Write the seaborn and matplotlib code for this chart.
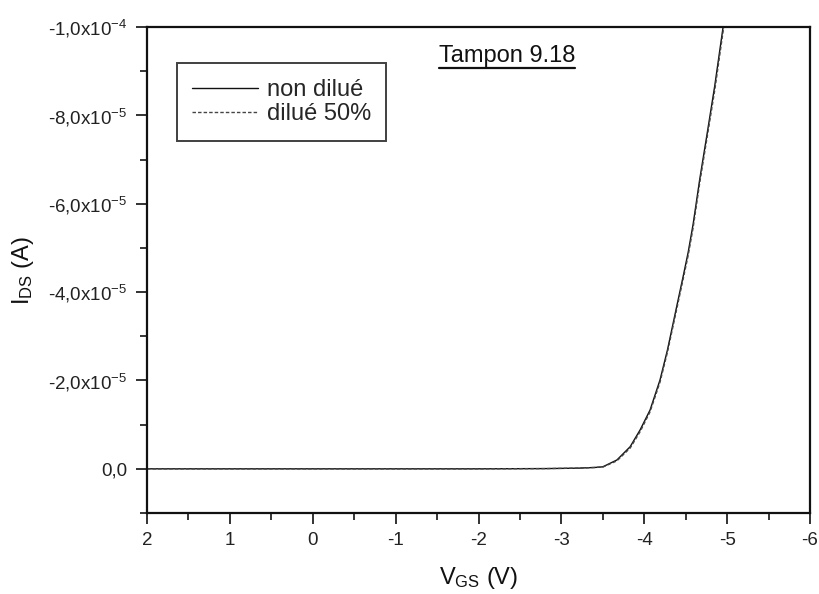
import matplotlib
matplotlib.use("Agg")
import matplotlib.pyplot as plt
from matplotlib.ticker import MultipleLocator, FixedLocator
from matplotlib.lines import Line2D
import seaborn as sns
import pandas as pd

###--- Values
vgs = [2.0, 1.0, 0.0, -1.0, -2.0, -2.8, -3.2, -3.4, -3.50, -3.67, -3.83, -3.95, -4.07,
       -4.19, -4.28, -4.39, -4.47, -4.53, -4.59, -4.67, -4.76, -4.85, -4.95, -5.0]
ids_non_dilue = [0.0, 0.0, 0.0, 0.0, 0.0, -0.05e-6, -0.15e-6, -0.3e-6, -0.45e-6, -2.0e-6,
                 -5.0e-6, -8.8e-6, -13.3e-6, -20.1e-6, -26.9e-6, -36.6e-6, -43.6e-6,
                 -49.0e-6, -55.4e-6, -65.6e-6, -76.0e-6, -86.6e-6, -99.8e-6, -106.0e-6]
ids_dilue_50 = [0.0, 0.0, 0.0, 0.0, 0.0, -0.05e-6, -0.15e-6, -0.3e-6, -0.4e-6, -1.8e-6,
                -4.7e-6, -8.4e-6, -12.9e-6, -19.6e-6, -26.4e-6, -36.0e-6, -43.0e-6,
                -48.3e-6, -54.6e-6, -64.8e-6, -75.2e-6, -85.6e-6, -98.8e-6, -105.0e-6]
series_names = ["non dilué", "dilué 50%"]

ytick_values = [0.0, -2e-5, -4e-5, -6e-5, -8e-5, -1e-4]
ytick_labels = ["0,0", r"-2,0x10$^{-5}$", r"-4,0x10$^{-5}$", r"-6,0x10$^{-5}$",
                r"-8,0x10$^{-5}$", r"-1,0x10$^{-4}$"]
xtick_values = [2, 1, 0, -1, -2, -3, -4, -5, -6]

###--- Long table for seaborn
df = pd.concat([
    pd.DataFrame({"VGS": vgs, "IDS": ids_non_dilue, "serie": series_names[0]}),
    pd.DataFrame({"VGS": vgs, "IDS": ids_dilue_50, "serie": series_names[1]}),
])

sns.set_style("ticks")
plt.rcParams['font.family'] = ['Liberation Sans', 'DejaVu Sans']
plt.rcParams['mathtext.fontset'] = 'custom'
plt.rcParams['mathtext.rm'] = 'Liberation Sans'
plt.rcParams['mathtext.it'] = 'Liberation Sans'

fig = plt.figure(figsize=(8.19, 5.94), dpi=100)
ax = fig.add_axes([147/819, 81/594, 663/819, 486/594])

sns.lineplot(data=df, x="VGS", y="IDS", hue="serie", style="serie",
             palette=["#111111", "#444444"], dashes=[(1, 0), (2.5, 1.5)],
             linewidth=1.0, sort=False, estimator=None, ax=ax, legend=False)

ax.set_xlim(2, -6)
ax.set_ylim(1e-5, -1e-4)

ax.xaxis.set_major_locator(FixedLocator(xtick_values))
ax.xaxis.set_minor_locator(MultipleLocator(0.5))
ax.set_xticklabels([str(v) for v in xtick_values])
ax.yaxis.set_major_locator(FixedLocator(ytick_values))
ax.yaxis.set_minor_locator(MultipleLocator(1e-5))
ax.set_yticklabels(ytick_labels)

ax.tick_params(axis='both', which='major', direction='out', length=8, width=1.3,
               labelsize=13.5, colors='#222222', pad=6)
ax.tick_params(axis='both', which='minor', direction='out', length=5, width=1.3)
for sp in ax.spines.values():
    sp.set_linewidth(1.6)
    sp.set_color('#111111')

ax.set_xlabel(r"V$_{\mathregular{GS}}$ (V)", fontsize=17, labelpad=11, color='#111111')
ax.set_ylabel(r"I$_{\mathregular{DS}}$ (A)", fontsize=17, labelpad=9, color='#111111')

###--- Legend (hand-built to match the framed box)
handles = [Line2D([], [], color="#111111", lw=1.0),
           Line2D([], [], color="#444444", lw=1.0, dashes=(2.5, 1.5))]
leg = ax.legend(handles, series_names, loc='upper left', bbox_to_anchor=(0.045, 0.925),
                fontsize=17, frameon=True, fancybox=False, edgecolor='#111111',
                handlelength=2.8, handletextpad=0.35, borderpad=0.65, labelspacing=0.1,
                borderaxespad=0)
leg.get_frame().set_linewidth(1.4)

###--- Underlined title
t = ax.text(0.543, 0.962, "Tampon 9.18", transform=ax.transAxes, fontsize=17,
            ha='center', va='top', color='#111111')
fig.canvas.draw()
bb = t.get_window_extent().transformed(ax.transAxes.inverted())
ax.plot([bb.x0, bb.x1], [bb.y0 - 0.002, bb.y0 - 0.002], transform=ax.transAxes,
        color='#111111', lw=1.6, clip_on=False)

fig.savefig("out.png", dpi=100, facecolor='white')
